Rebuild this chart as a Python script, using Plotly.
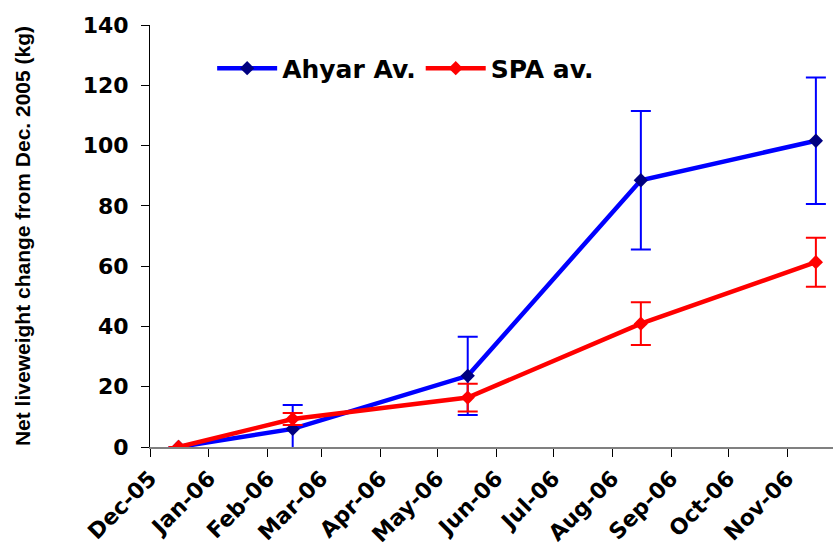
import plotly.graph_objects as go

# Sampling dates (mid-month) and tick labels
dates = ["2005-12-16", "2006-02-14", "2006-05-17", "2006-08-16", "2006-11-16"]
tick_dates = ["2005-12-01", "2006-01-01", "2006-02-01", "2006-03-01", "2006-04-01",
              "2006-05-01", "2006-06-01", "2006-07-01", "2006-08-01", "2006-09-01",
              "2006-10-01", "2006-11-01"]
tick_labels = ["Dec-05", "Jan-06", "Feb-06", "Mar-06", "Apr-06", "May-06",
               "Jun-06", "Jul-06", "Aug-06", "Sep-06", "Oct-06", "Nov-06"]

ahyar = [0, 6.0, 23.6, 88.5, 101.6]
ahyar_err = [0, 7.9, 13.0, 23.0, 21.0]
spa = [0, 9.3, 16.4, 40.9, 61.3]
spa_err = [0, 2.0, 4.6, 7.1, 8.1]

tick_font = dict(family="DejaVu Sans", size=22, color="black", weight="bold")

fig = go.Figure()
fig.add_trace(go.Scatter(
    x=dates, y=ahyar, name="Ahyar Av.", mode="lines+markers",
    line=dict(color="#0000FF", width=4.5),
    marker=dict(symbol="diamond", size=11, color="#000080"),
    error_y=dict(type="data", array=ahyar_err, visible=True,
                 color="#0000FF", thickness=2, width=10),
))
fig.add_trace(go.Scatter(
    x=dates, y=spa, name="SPA av.", mode="lines+markers",
    line=dict(color="#FF0000", width=4.5),
    marker=dict(symbol="diamond", size=11, color="#FF0000"),
    error_y=dict(type="data", array=spa_err, visible=True,
                 color="#FF0000", thickness=2, width=10),
))

fig.update_layout(
    width=833, height=547,
    margin=dict(l=150, r=0, t=25, b=97),
    paper_bgcolor="white", plot_bgcolor="white",
    font=dict(family="DejaVu Sans", color="black"),
    showlegend=True,
    legend=dict(
        orientation="h", x=0.091, y=0.897, xanchor="left", yanchor="middle",
        font=dict(family="DejaVu Sans", size=25, color="black", weight="bold"),
        bgcolor="rgba(0,0,0,0)", itemwidth=60, tracegroupgap=0,
    ),
    xaxis=dict(
        type="date", range=["2005-12-01", "2006-11-25"],
        tickmode="array", tickvals=tick_dates, ticktext=tick_labels,
        tickangle=-45, tickfont=tick_font,
        ticks="outside", ticklen=8, tickcolor="black", tickwidth=1,
        showline=True, linecolor="#808080", linewidth=1.5,
        showgrid=False, zeroline=False,
    ),
    yaxis=dict(
        range=[0, 140], tickmode="array", tickvals=[0, 20, 40, 60, 80, 100, 120, 140],
        tickfont=tick_font, ticklabelstandoff=8,
        ticks="outside", ticklen=8, tickcolor="black", tickwidth=1,
        showline=True, linecolor="black", linewidth=1,
        showgrid=False, zeroline=False,
        title=dict(text="Net liveweight change from Dec. 2005 (kg)",
                   font=dict(family="Liberation Sans", size=21, color="black", weight="bold"),
                   standoff=46),
    ),
)

fig.write_html("out.html")
